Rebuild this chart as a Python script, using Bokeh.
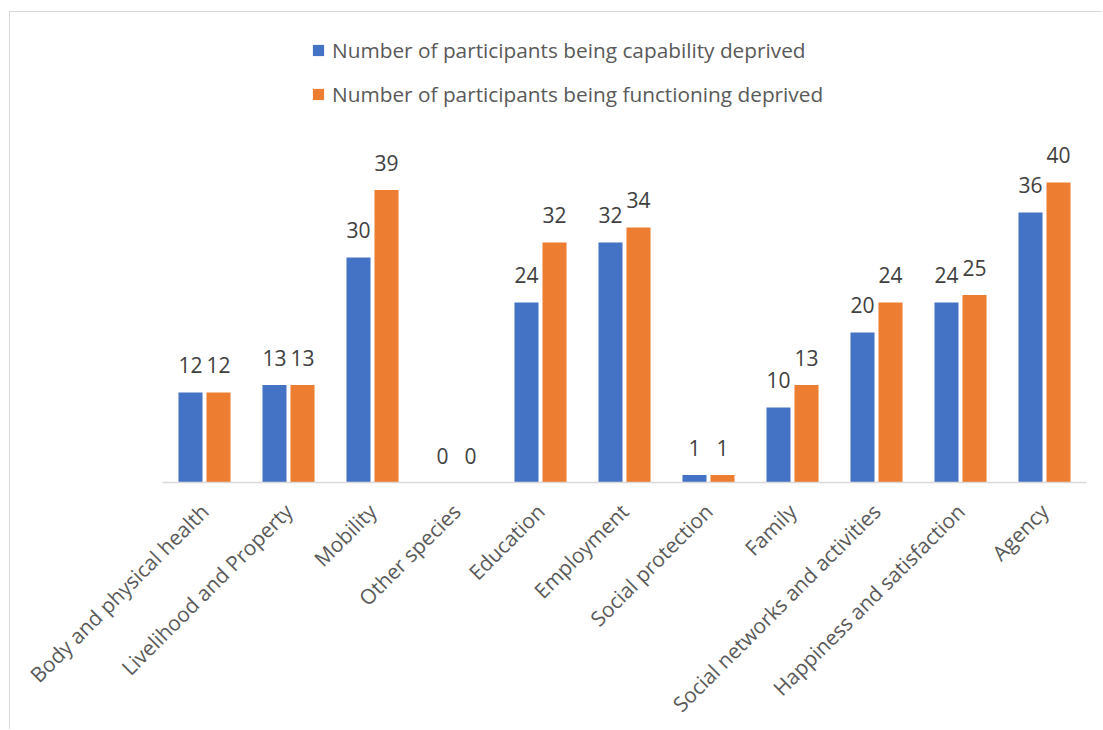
from bokeh.plotting import figure
from bokeh.models import ColumnDataSource, FactorRange, Range1d, Legend, LegendItem, LabelSet
from bokeh.core.properties import value
from bokeh.transform import dodge
from bokeh.embed import file_html
from bokeh.resources import INLINE
import math

categories = ["Body and physical health", "Livelihood and Property", "Mobility", "Other species",
              "Education", "Employment", "Social protection", "Family",
              "Social networks and activities", "Happiness and satisfaction", "Agency"]
capability = [12, 13, 30, 0, 24, 32, 1, 10, 20, 24, 36]
functioning = [12, 13, 39, 0, 32, 34, 1, 13, 24, 25, 40]
series_names = ["Number of participants being capability deprived",
                "Number of participants being functioning deprived"]

BLUE = "#4472C4"
ORANGE = "#ED7D31"
FONT = "Open Sans"

src = ColumnDataSource(dict(cat=categories, cap=capability, fun=functioning,
                            cap_lbl=[str(v) for v in capability],
                            fun_lbl=[str(v) for v in functioning]))

p = figure(x_range=FactorRange(*categories), y_range=Range1d(0, 61.33),
           width=1093, height=718, output_backend="svg", toolbar_location=None,
           min_border_left=152, min_border_right=17, min_border_top=10, min_border_bottom=248,
           styles={"margin-left": "9px", "margin-top": "11px",
                   "border-left": "1.5px solid #d9d9d9", "border-top": "1.5px solid #d9d9d9"})
p.outline_line_color = None
p.xgrid.visible = False
p.ygrid.visible = False
p.yaxis.visible = False

off = 0.1667
bw = 0.286
r1 = p.vbar(x=dodge("cat", -off, range=p.x_range), top="cap", width=bw, source=src,
            fill_color=BLUE, line_color=None)
r2 = p.vbar(x=dodge("cat", off, range=p.x_range), top="fun", width=bw, source=src,
            fill_color=ORANGE, line_color=None)

for col, lbl, o in (("cap", "cap_lbl", -off), ("fun", "fun_lbl", off)):
    ls = LabelSet(x=dodge("cat", o, range=p.x_range), y=col, text=lbl, source=src,
                  text_align="center", text_baseline="bottom", y_offset=19,
                  text_font=value(FONT), text_font_size=value("21px"), text_color=value("#404040"))
    p.add_layout(ls)

ax = p.xaxis[0]
ax.axis_line_color = "#d9d9d9"
ax.axis_line_width = 1.5
ax.major_tick_line_color = None
ax.minor_tick_line_color = None
ax.major_label_orientation = math.pi / 4
ax.major_label_text_font = FONT
ax.major_label_text_font_size = "20.8px"
ax.major_label_text_color = "#595959"
ax.major_label_standoff = 19

legend = Legend(items=[LegendItem(label=series_names[0], renderers=[r1]),
                       LegendItem(label=series_names[1], renderers=[r2])],
                location=(149, 374), orientation="vertical",
                border_line_color=None, background_fill_alpha=0,
                padding=0, margin=0, spacing=16, glyph_width=14, glyph_height=14,
                label_standoff=7, label_height=20,
                label_text_font=FONT, label_text_font_size="20.8px", label_text_color="#595959")
p.add_layout(legend)

open("out.html", "w").write(file_html(p, INLINE))
